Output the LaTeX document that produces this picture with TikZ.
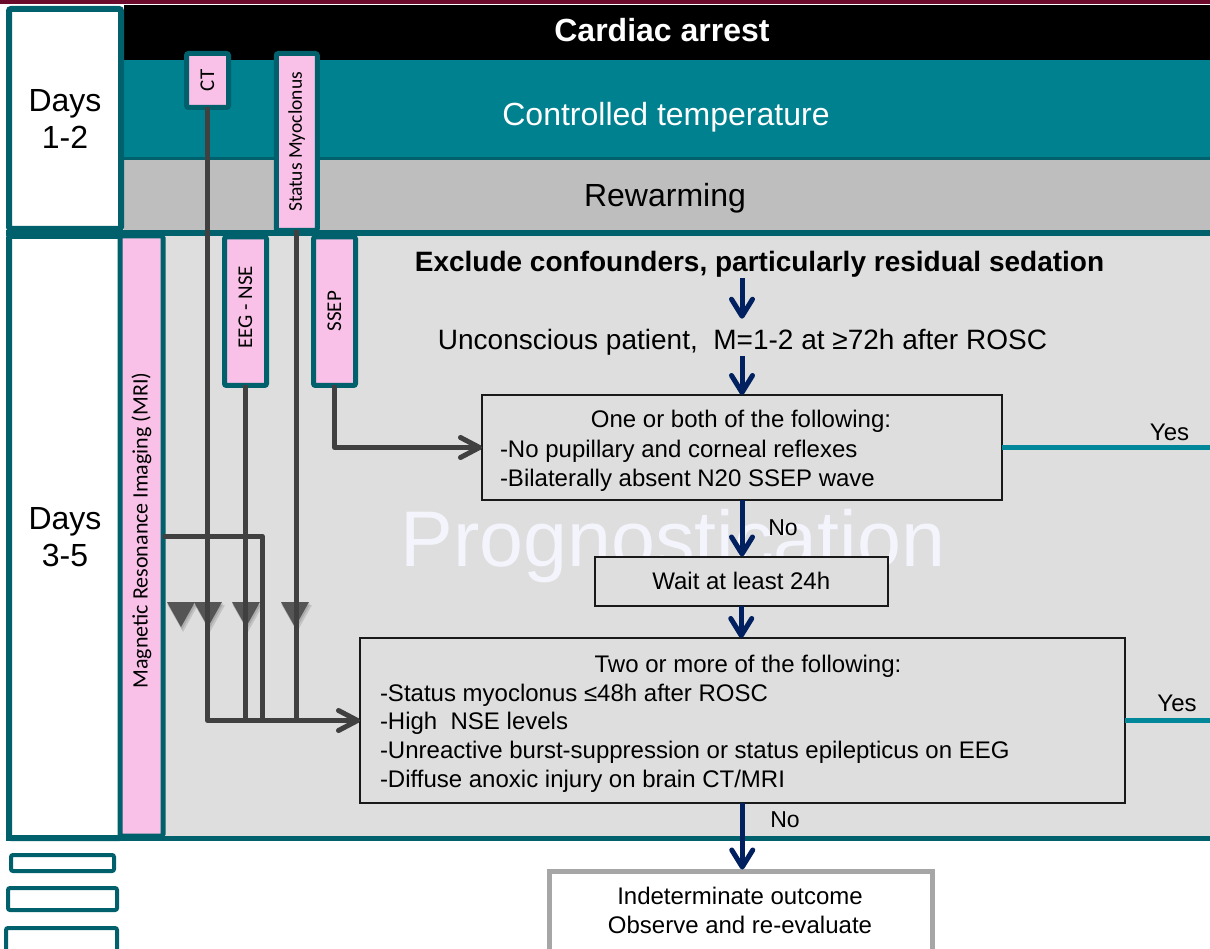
\documentclass[tikz,border=0pt]{standalone}
\usepackage{fontspec}
\setmainfont{Liberation Sans}
\newfontfamily\tagfont{Carlito}
\usetikzlibrary{arrows.meta}

\definecolor{topmaroon}{HTML}{6B0A2A}
\definecolor{tealdark}{HTML}{00606C}
\definecolor{tealbar}{HTML}{00818F}
\definecolor{tealline}{HTML}{00879A}
\definecolor{rewarmgray}{HTML}{BEBEBE}
\definecolor{panelgray}{HTML}{DEDEDE}
\definecolor{pinkfill}{HTML}{F9C1E8}
\definecolor{conngray}{HTML}{404040}
\definecolor{trigray}{HTML}{555555}
\definecolor{navyblue}{HTML}{002060}
\definecolor{outgray}{HTML}{A6A6A6}
\definecolor{markwhite}{HTML}{F4F4FC}

\newcommand{\fsz}[1]{\fontsize{#1}{#1}\selectfont}

\begin{document}
\begin{tikzpicture}[x=1pt,y=-1pt,
  every node/.style={inner sep=0pt, outer sep=0pt},
  txt/.style={font=\fsz{24}, text=black},
  daysbox/.style={draw=tealdark, fill=white, line width=6pt, rounded corners=2pt,
                  align=center, font=\fontsize{32}{37}\selectfont},
  tagbox/.style={draw=tealdark, fill=pinkfill, line width=5pt, rounded corners=2pt,
                 font=\tagfont\fsz{21}},
  flowbox/.style={draw=black!90, line width=2pt},
  conn/.style={draw=conngray, line width=5pt, line join=round},
  grayhead/.style={-{Straight Barb[length=19pt,width=20pt,round]}},
  navyarrow/.style={draw=navyblue, line width=5pt,
                    -{Straight Barb[length=17pt,width=21pt,round]}},
  yesline/.style={draw=tealline, line width=5pt},
  legendbox/.style={draw=tealdark, fill=white, line width=4pt, rounded corners=2pt},
]
\useasboundingbox (0,0) rectangle (1210,949);
\fill[white] (0,0) rectangle (1210,949);
\fill[topmaroon] (0,0) rectangle (1210,4.5);

% phase bars of days 1-2
\fill[black] (124,5.5) rectangle (1212,60);
\fill[tealbar] (124,60) rectangle (1212,157);
\draw[tealdark, line width=3pt] (124,158.5) -- (1212,158.5);
\fill[rewarmgray] (124,160) rectangle (1212,230.5);

% prognostication panel of days 3-5
\fill[panelgray] (124,236) rectangle (1212,838);
\draw[tealdark, line width=6pt] (6,233) -- (1212,233);
\draw[tealdark, line width=5pt] (6,838.5) -- (1212,838.5);

% day columns
\node[daysbox, minimum width=112pt, minimum height=220pt] (days12) at (65,119) {Days\\1-2};
\node[daysbox, minimum width=112pt, minimum height=602pt] (days35) at (65,537) {Days\\3-5};

% phase labels
\node[font=\bfseries\fsz{32}, text=white, anchor=base] (arrest) at (662,41.5) {Cardiac arrest};
\node[font=\fsz{32}, text=white, anchor=base] (ttm) at (666,126) {Controlled temperature};
\node[font=\fsz{32}, anchor=base] (rewarm) at (665,207) {Rewarming};

% watermark
\node[font=\fsz{79}, text=markwhite, anchor=base] (wm) at (673,566) {Prognostication};

% test tags
\node[tagbox, font=\tagfont\fsz{22}, minimum width=43pt, minimum height=600pt] (mri) at (141.5,536)
  {\rotatebox{90}{\hspace*{11pt}Magnetic Resonance Imaging (MRI)}};
\node[tagbox, minimum width=42pt, minimum height=54pt] (ct) at (207.5,80.5) {\rotatebox{90}{CT}};
\node[tagbox, font=\tagfont\fsz{19.5}, minimum width=41pt, minimum height=177pt] (sm) at (296.75,142)
  {\rotatebox{90}{Status Myoclonus}};
\node[tagbox, minimum width=42pt, minimum height=148.5pt] (eeg) at (245.5,311.25)
  {\rotatebox{90}{\hspace*{7.5pt}EEG - NSE}};
\node[tagbox, minimum width=42pt, minimum height=148.5pt] (ssep) at (334.5,311.25)
  {\rotatebox{90}{SSEP}};

% timing markers
\foreach \tx in {181,208,246,295} {
  \fill[black, opacity=0.12] (\tx-13,605) -- (\tx+17,605) -- (\tx+2,632) -- cycle;
  \fill[black, opacity=0.12] (\tx-14,603.5) -- (\tx+15.5,603.5) -- (\tx+1,629.5) -- cycle;
  \fill[trigray] (\tx-14,602) -- (\tx+14,602) -- (\tx,627) -- cycle;
}

% decision boxes
\node[flowbox, minimum width=520pt, minimum height=105pt] (box1) at (742,447.5) {};
\node[flowbox, fill=panelgray, minimum width=293.5pt, minimum height=49pt, font=\fsz{24}]
  (wait) at (741.25,581) {Wait at least 24h};
\node[flowbox, minimum width=764.5pt, minimum height=165pt] (box2) at (742.25,720.5) {};
\node[draw=outgray, fill=white, line width=5pt, minimum width=383pt, minimum height=93.5pt]
  (box3) at (741,918.25) {};

% test connectors
\coordinate (mribend) at (262,536);
\draw[conn] (sm.south) -- (sm.south |- box2.west);
\draw[conn] (eeg.south) -- (eeg.south |- box2.west);
\draw[conn] (mri.east |- mribend) -- (mribend) -- (mribend |- box2.west);
\draw[conn, grayhead] (ct.south) |- (box2.west);
\draw[conn, grayhead] (ssep.south) |- (box1.west);

% main flow
\node[font=\bfseries\fsz{28}, anchor=base] (excl) at (759.5,272)
  {Exclude confounders, particularly residual sedation};
\node[font=\fsz{28}, anchor=base] (unc) at (742.5,350)
  {Unconscious patient,\ \ M=1-2 at ≥72h after ROSC};

\node[txt, anchor=base] (b1a) at (741,427) {One or both of the following:};
\node[txt, anchor=base west] (b1b) at (500,457) {-No pupillary and corneal reflexes};
\node[txt, anchor=base west] (b1c) at (500,486) {-Bilaterally absent N20 SSEP wave};

\node[txt, anchor=base] (b2a) at (748,672) {Two or more of the following:};
\node[txt, anchor=base west] (b2b) at (380,701) {-Status myoclonus ≤48h after ROSC};
\node[txt, anchor=base west] (b2c) at (380,729) {-High\ \ NSE levels};
\node[txt, anchor=base west] (b2d) at (380,758) {-Unreactive burst-suppression or status epilepticus on EEG};
\node[txt, anchor=base west] (b2e) at (380,787) {-Diffuse anoxic injury on brain CT/MRI};

\node[txt, anchor=base] (b3a) at (740,904) {Indeterminate outcome};
\node[txt, anchor=base] (b3b) at (740,933) {Observe and re-evaluate};

\draw[navyarrow, shorten >=11pt] (box1.north |- excl.south) -- (box1.north |- unc.north);
\draw[navyarrow] (box1.north |- unc.south) -- (box1.north);
\draw[navyarrow] (box1.south) -- (box1.south |- wait.north);
\draw[navyarrow] (wait.south) -- (wait.south |- box2.north);
\draw[navyarrow, shorten >=2pt] (box2.south) -- (box2.south |- box3.north);

\node[font=\fsz{23}, anchor=base] (no1) at (783,535) {No};
\node[font=\fsz{23}, anchor=base] (no2) at (785,827) {No};

% outcome branches
\coordinate (yes1end) at (1212,447.5);
\coordinate (yes2end) at (1212,720.5);
\draw[yesline] (box1.east) -- (yes1end);
\draw[yesline] (box2.east) -- (yes2end);
\node[txt, anchor=base] (yes1) at (1169.5,440) {Yes};
\node[txt, anchor=base] (yes2) at (1177,711) {Yes};

% legend frames
\draw[legendbox] (11,855) rectangle (114,871);
\draw[legendbox] (8,888) rectangle (117,910);
\draw[legendbox] (6,928) rectangle (117,965);
\end{tikzpicture}
\end{document}
